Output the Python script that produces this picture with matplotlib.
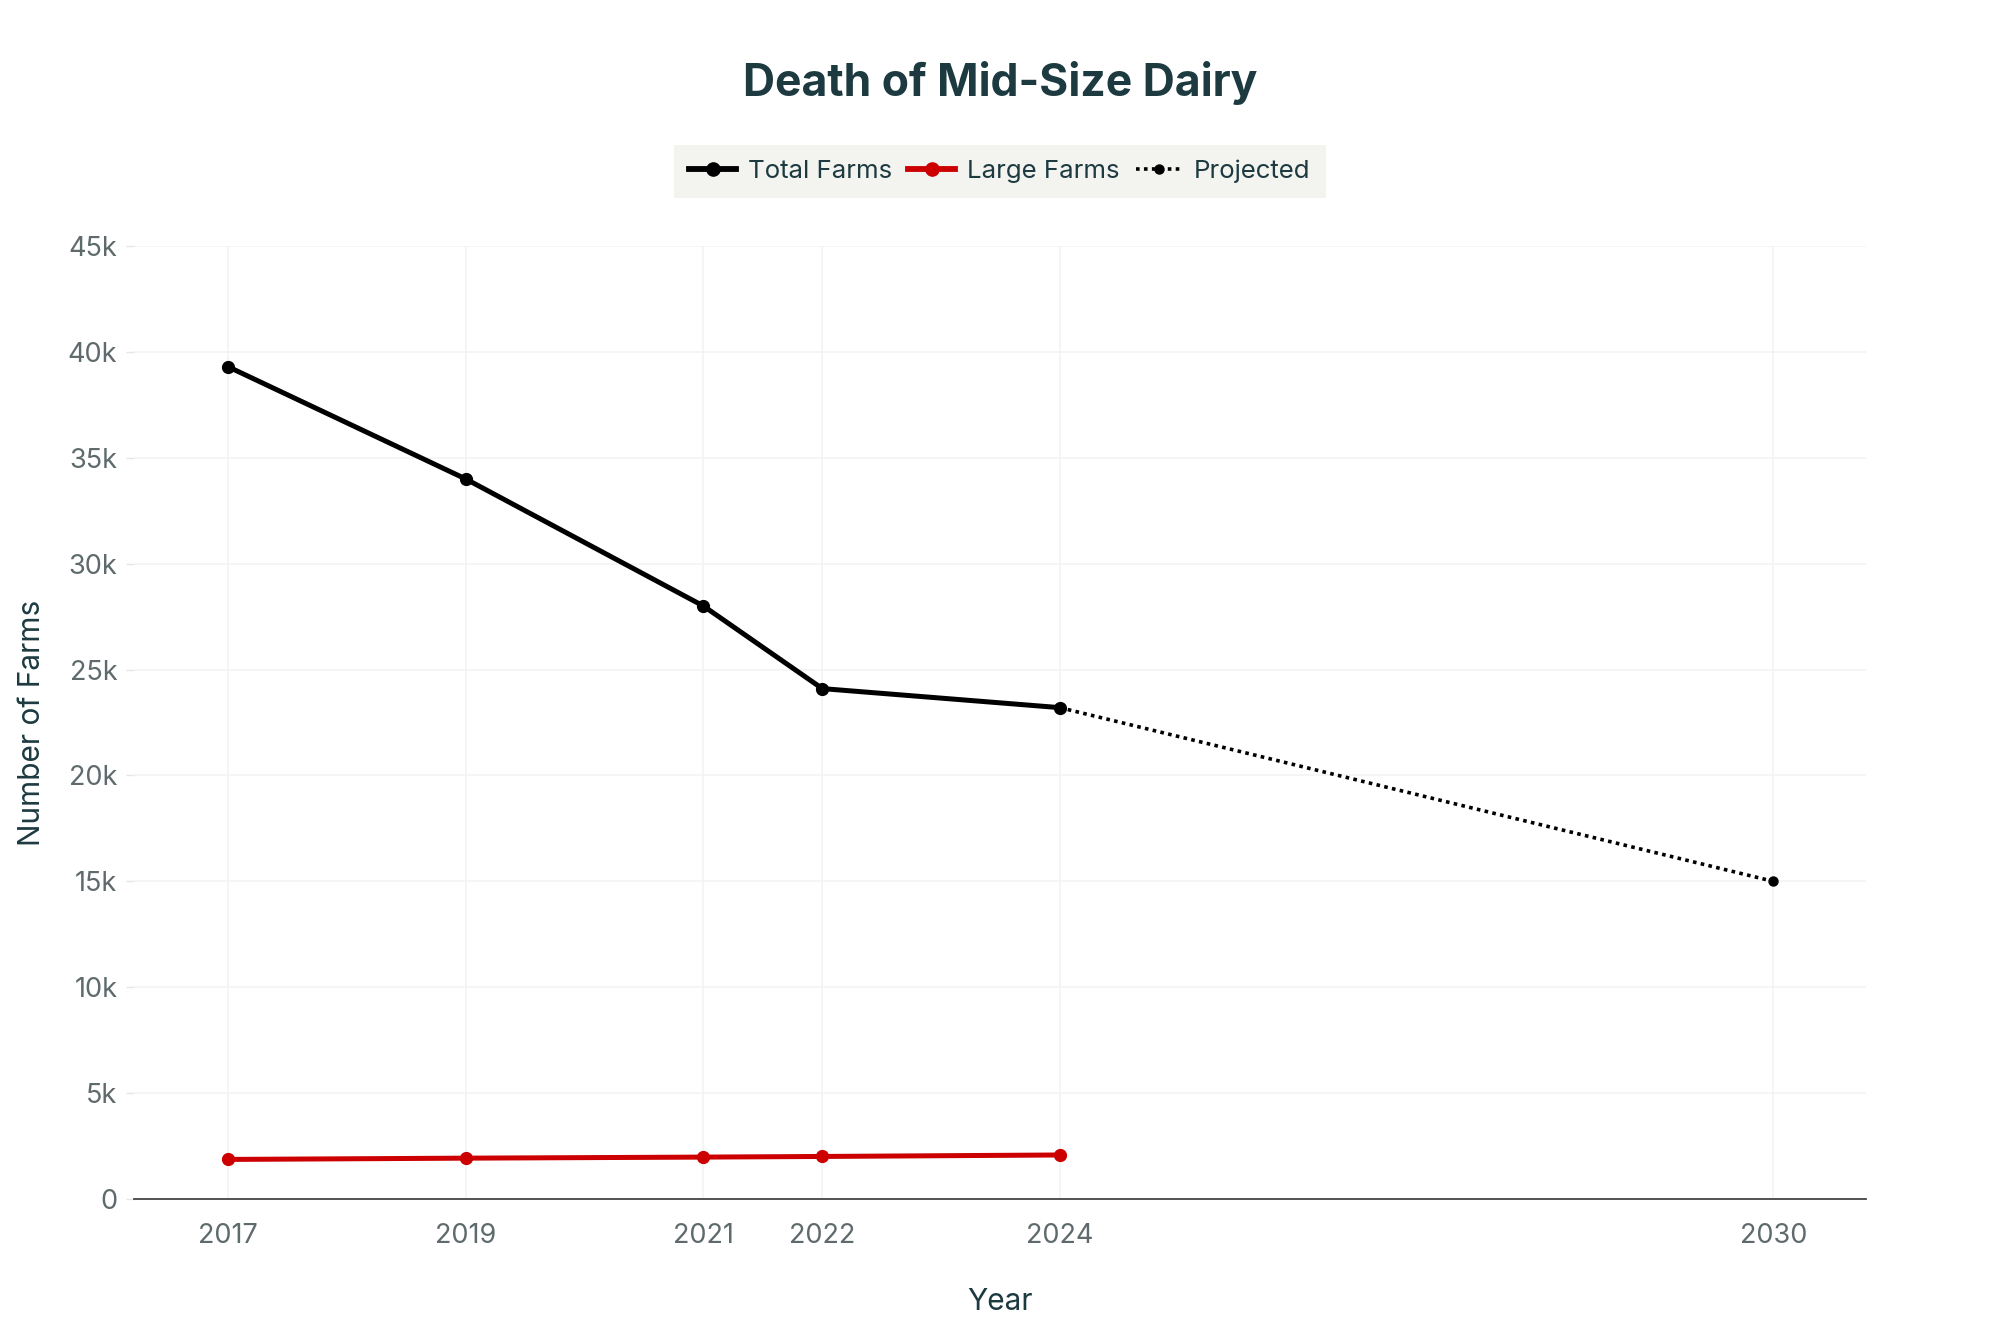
import matplotlib.pyplot as plt
from matplotlib.ticker import FuncFormatter

plt.rcParams['font.family'] = ['Inter', 'DejaVu Sans']

# data
years = [2017, 2019, 2021, 2022, 2024]
total_farms = [39300, 34000, 28000, 24100, 23200]
large_farms = [1870, 1930, 1980, 2010, 2080]
proj_years = [2024, 2030]
proj_farms = [23200, 15000]
x_ticks = [2017, 2019, 2021, 2022, 2024, 2030]
y_ticks = [0, 5000, 10000, 15000, 20000, 25000, 30000, 35000, 40000, 45000]

text_color = '#1c3a40'
tick_color = '#5f6a6d'
grid_color = '#f3f3f3'

fig = plt.figure(figsize=(20, 13.33), dpi=100)
ax = fig.add_axes([0.067, 0.1005, 0.866, 0.715])

ax.plot(years, total_farms, color='black', lw=3.6, marker='o', markersize=8.5,
        label='Total Farms', zorder=3)
ax.plot(years, large_farms, color='#cc0000', lw=3.6, marker='o', markersize=8.5,
        label='Large Farms', zorder=3)
ax.plot(proj_years, proj_farms, color='black', lw=2.6, linestyle=(0, (1, 1.2)),
        marker='o', markersize=6.5, markevery=[1], label='Projected', zorder=2)

ax.set_xlim(2016.21, 2030.78)
ax.set_ylim(0, 45000)
ax.set_xticks(x_ticks)
ax.set_yticks(y_ticks)
ax.yaxis.set_major_formatter(FuncFormatter(lambda v, p: '0' if v == 0 else f'{int(v / 1000)}k'))

ax.grid(True, color=grid_color, lw=1.2)
ax.set_axisbelow(True)
for side in ['top', 'right', 'left']:
    ax.spines[side].set_visible(False)
ax.spines['bottom'].set_color('#444444')
ax.spines['bottom'].set_linewidth(1.3)

ax.tick_params(axis='x', length=0, pad=17, labelsize=19.5, labelcolor=tick_color)
ax.tick_params(axis='y', length=6, width=1, color='#e6e6e6', pad=6,
               labelsize=19.5, labelcolor=tick_color)

ax.set_xlabel('Year', fontsize=21.5, color=text_color, labelpad=28)
ax.set_ylabel('Number of Farms', fontsize=21.5, color=text_color, labelpad=16)

fig.text(0.5, 0.938, 'Death of Mid-Size Dairy', ha='center', va='center',
         fontsize=32, fontweight='bold', color=text_color)

leg = fig.legend(loc='center', bbox_to_anchor=(0.5, 0.8715), ncol=3, fontsize=18.6,
                 frameon=True, facecolor='#f1f2ed', edgecolor='none', fancybox=False,
                 handlelength=1.8, handletextpad=0.45, columnspacing=0.65,
                 borderpad=0.58, borderaxespad=0)
for t in leg.get_texts():
    t.set_color(text_color)
for h in leg.legend_handles[:2]:
    h.set_linewidth(4.2)
    h.set_markersize(9.5)

fig.savefig('out.png', dpi=100)
plt.close(fig)
